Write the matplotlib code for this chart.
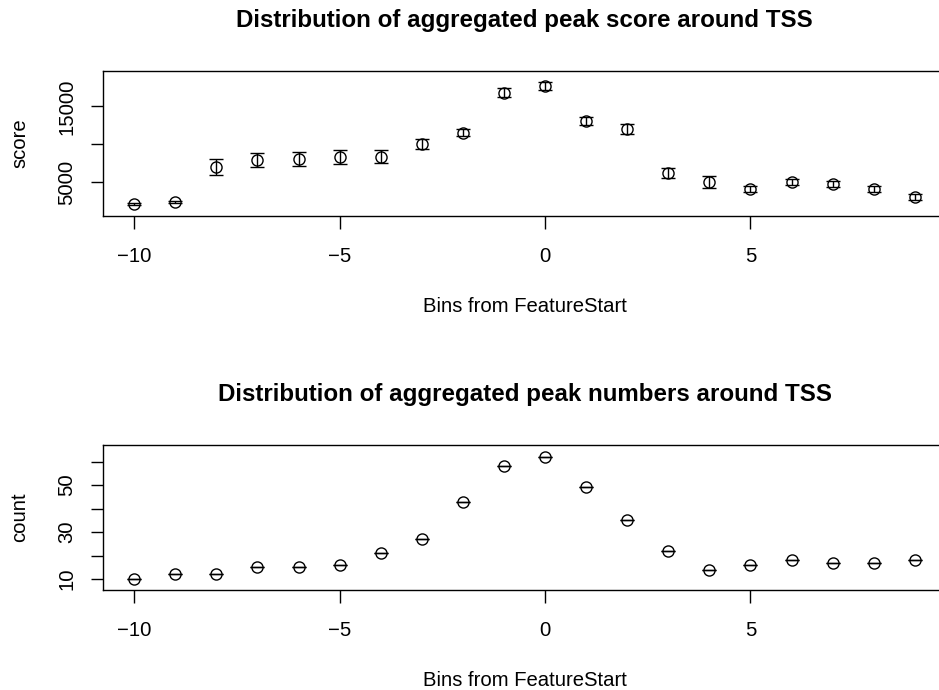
import matplotlib
matplotlib.use("Agg")
import matplotlib.pyplot as plt

plt.rcParams['font.family'] = ['Liberation Sans', 'DejaVu Sans']

bins = [-10, -9, -8, -7, -6, -5, -4, -3, -2, -1, 0, 1, 2, 3, 4, 5, 6, 7, 8, 9]
score = [2150, 2370, 6970, 7900, 8100, 8330, 8370, 10080, 11530, 16790,
         17710, 13030, 12010, 6180, 5040, 4160, 5040, 4780, 4080, 3070]
score_err = [100, 120, 1060, 920, 940, 900, 830, 680, 460, 590,
             550, 550, 660, 660, 790, 370, 370, 450, 400, 330]
count = [10, 12, 12, 15, 15, 16, 21, 27, 43, 58,
         62, 49, 35, 22, 14, 16, 18, 17, 17, 18]
count_err = [0] * len(count)

x_ticks = [-10, -5, 0, 5]
score_ticks = [5000, 10000, 15000]
score_ticklabels = ['5000', '', '15000']
count_ticks = [10, 20, 30, 40, 50, 60]
count_ticklabels = ['10', '', '30', '', '50', '']

titles = ['Distribution of aggregated peak score around TSS',
          'Distribution of aggregated peak numbers around TSS']
ylabels = ['score', 'count']
xlabel = 'Bins from FeatureStart'

W, H = 939, 690
fig = plt.figure(figsize=(W / 100, H / 100), dpi=100)

def px_axes(left, top, right, bottom):
    return [left / W, 1 - bottom / H, (right - left) / W, (bottom - top) / H]

FS = 14.6
TFS = 17.4

panels = [
    dict(rect=(103, 71, 946, 216), y=score, err=score_err, ylim=(570, 19650),
         ticks=score_ticks, labels=score_ticklabels),
    dict(rect=(103, 445, 946, 590), y=count, err=count_err, ylim=(5.31, 67.1),
         ticks=count_ticks, labels=count_ticklabels),
]

for i, p in enumerate(panels):
    l, t, r, b = p['rect']
    ax = fig.add_axes(px_axes(l, t, r, b))
    ax.errorbar(bins, p['y'], yerr=p['err'], fmt='o', mfc='none', mec='black',
                ms=8, mew=1.0, ecolor='black', elinewidth=1.0, capsize=4.8,
                capthick=1.0)
    ax.set_xlim(-10.76, 9.76)
    ax.set_ylim(*p['ylim'])
    ax.set_xticks(x_ticks)
    ax.set_yticks(p['ticks'])
    ax.set_yticklabels(p['labels'], rotation=90, va='center')
    ax.tick_params(axis='both', direction='out', length=9, width=1.0,
                   labelsize=FS, color='black')
    ax.tick_params(axis='x', pad=13)
    ax.tick_params(axis='y', pad=10)
    for s in ax.spines.values():
        s.set_linewidth(1.0)
    cx = (l + r) / 2 / W
    fig.text(cx, 1 - (t - 44) / H, titles[i], ha='center', va='baseline',
             fontsize=TFS, fontweight='bold')
    fig.text(cx, 1 - (b + 95.7) / H, xlabel, ha='center', va='baseline',
             fontsize=FS)
    fig.text(29 / W, 1 - ((t + b) / 2) / H, ylabels[i], ha='right',
             va='center', rotation=90, fontsize=FS)

fig.savefig('out.png', dpi=100)
